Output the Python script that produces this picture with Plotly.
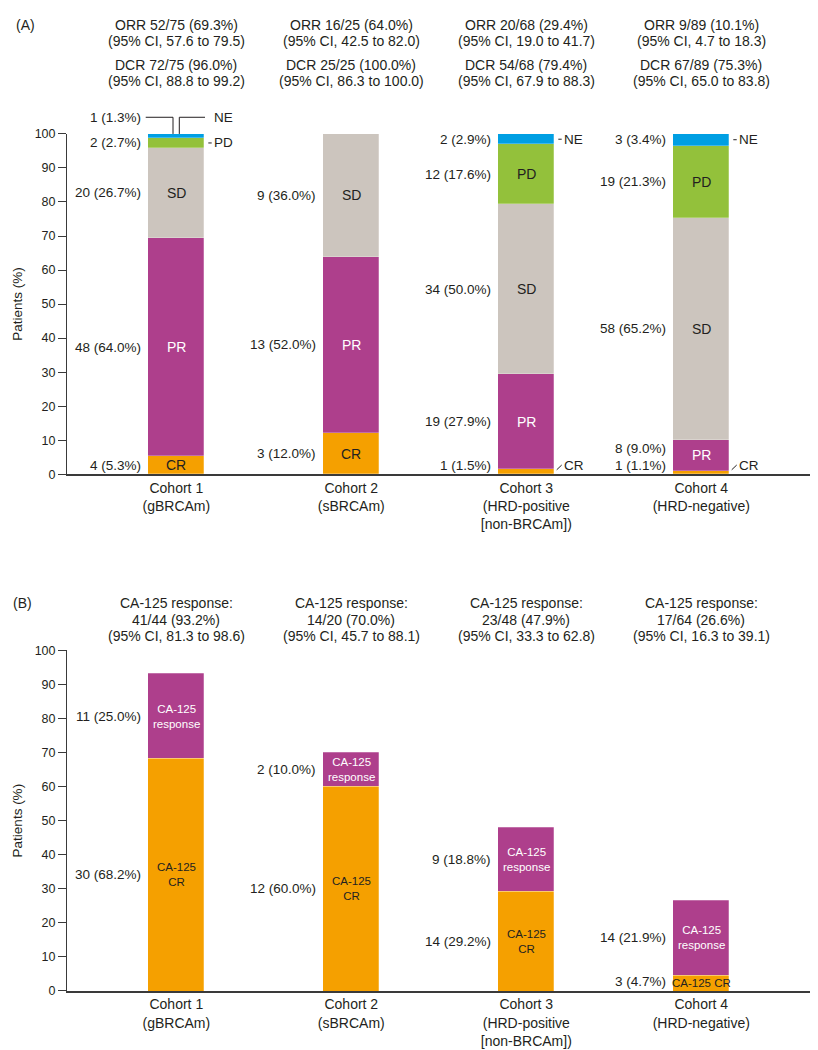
import plotly.graph_objects as go

# ---- data -------------------------------------------------------------
cohorts = ["Cohort 1<br>(gBRCAm)", "Cohort 2<br>(sBRCAm)",
           "Cohort 3<br>(HRD-positive<br>[non-BRCAm])", "Cohort 4<br>(HRD-negative)"]

# panel A: best overall response
cr_n = [4, 3, 1, 1]
cr_pct = [5.3, 12.0, 1.5, 1.1]
pr_n = [48, 13, 19, 8]
pr_pct = [64.0, 52.0, 27.9, 9.0]
sd_n = [20, 9, 34, 58]
sd_pct = [26.7, 36.0, 50.0, 65.2]
pd_n = [2, None, 12, 19]
pd_pct = [2.7, None, 17.6, 21.3]
ne_n = [1, None, 2, 3]
ne_pct = [1.3, None, 2.9, 3.4]

orr_text = ["ORR 52/75 (69.3%)", "ORR 16/25 (64.0%)", "ORR 20/68 (29.4%)", "ORR 9/89 (10.1%)"]
orr_ci = ["(95% CI, 57.6 to 79.5)", "(95% CI, 42.5 to 82.0)", "(95% CI, 19.0 to 41.7)", "(95% CI, 4.7 to 18.3)"]
dcr_text = ["DCR 72/75 (96.0%)", "DCR 25/25 (100.0%)", "DCR 54/68 (79.4%)", "DCR 67/89 (75.3%)"]
dcr_ci = ["(95% CI, 88.8 to 99.2)", "(95% CI, 86.3 to 100.0)", "(95% CI, 67.9 to 88.3)", "(95% CI, 65.0 to 83.8)"]

# panel B: CA-125 response
ca_cr_n = [30, 12, 14, 3]
ca_cr_pct = [68.2, 60.0, 29.2, 4.7]
ca_resp_n = [11, 2, 9, 14]
ca_resp_pct = [25.0, 10.0, 18.8, 21.9]

ca_ratio = ["41/44 (93.2%)", "14/20 (70.0%)", "23/48 (47.9%)", "17/64 (26.6%)"]
ca_ci = ["(95% CI, 81.3 to 98.6)", "(95% CI, 45.7 to 88.1)", "(95% CI, 33.3 to 62.8)", "(95% CI, 16.3 to 39.1)"]

# ---- styling / geometry ------------------------------------------------
OFF = 8                     # default page body margin
W, H = 810, 1050
ML = 67 - OFF
PW = W - ML
X0 = -0.6246
X1 = X0 + PW / 175.0        # 175 px between cohorts
BW = 0.32
FONT = "Liberation Sans, Arial, sans-serif"
INK = "#231f20"
C_CR, C_PR, C_SD, C_PD, C_NE = "#f5a000", "#ae3f8c", "#ccc5be", "#93c13b", "#009fe3"


def ypx(px):
    # target picture row -> paper fraction (empirical fit of the rendered page)
    return 1 - (px - 15) / 0.983 / H


def yfig(px):
    # figure pixel row -> paper fraction
    return 1 - px / H


dom_a = [ypx(472.5), ypx(133.5)]
dom_b = [ypx(987.3), ypx(648)]


def xp(x, dpx=0):
    return (x - X0) / (X1 - X0) + dpx / PW


def yp(y, dom):
    return dom[0] + y / 100 * (dom[1] - dom[0])


xs = list(range(len(cohorts)))
fig = go.Figure()
annos = []
shapes = []


def txt(x, y, s, size=13.5, color=INK, xa="center", ya="middle"):
    annos.append(dict(x=x, y=y, xref="paper", yref="paper", text=s, showarrow=False,
                      xanchor=xa, yanchor=ya, font=dict(size=size, color=color, family=FONT)))


def seg_line(x0, y0, x1, y1):
    shapes.append(dict(type="line", xref="paper", yref="paper", x0=x0, y0=y0, x1=x1, y1=y1,
                       line=dict(color=INK, width=1)))


# panel A bars
seg_a = [("CR", cr_n, cr_pct, C_CR, INK), ("PR", pr_n, pr_pct, C_PR, "white"),
         ("SD", sd_n, sd_pct, C_SD, INK), ("PD", pd_n, pd_pct, C_PD, INK),
         ("NE", ne_n, ne_pct, C_NE, INK)]
for name, n, pct, col, _ in seg_a:
    fig.add_trace(go.Bar(x=xs, y=pct, width=BW, name=name, marker_color=col,
                         marker_line=dict(color="rgba(255,255,255,0.5)", width=0.5),
                         xaxis="x", yaxis="y"))

for i in xs:
    base = 0
    left = []
    right_prev = None
    for name, n, pct, col, tcol in seg_a:
        if pct[i] is None:
            continue
        p = pct[i]
        mid = base + p / 2
        top = base + p
        lab = f"{n[i]} ({p:.1f}%)"
        if name == "NE" and right_prev is not None and mid - right_prev < 4.8:
            # bracket callout above the bar
            yl = top + 4.9
            txt(xp(i - BW / 2, -5.6), yp(yl, dom_a), lab, xa="right")
            seg_line(xp(i - BW / 2, -2.6), yp(yl, dom_a), xp(i, -3.3), yp(yl, dom_a))
            seg_line(xp(i, -3.3), yp(yl, dom_a), xp(i, -3.3), yp(top, dom_a))
            seg_line(xp(i, 3), yp(top, dom_a), xp(i, 3), yp(yl, dom_a))
            seg_line(xp(i, 3), yp(yl, dom_a), xp(i + BW / 2, 0.7), yp(yl, dom_a))
            txt(xp(i + BW / 2, 7.4), yp(yl, dom_a), name, xa="left")
            base = top
            continue
        ly = max(mid, 2.7)
        if left and ly - left[-1] < 4.8:
            ly = left[-1] + 4.8
        left.append(ly)
        txt(xp(i - BW / 2, -5.6), yp(ly, dom_a), lab, xa="right")
        if p >= 4 and name != "NE":
            txt(xp(i), yp(mid, dom_a), name, size=14, color=tcol)
        elif name == "CR":
            seg_line(xp(i + BW / 2, 2.4), yp(1.3, dom_a), xp(i + BW / 2, 7.4), yp(2.7, dom_a))
            txt(xp(i + BW / 2, 7.6), yp(2.7, dom_a), name, xa="left")
        else:
            seg_line(xp(i + BW / 2, 4), yp(mid, dom_a), xp(i + BW / 2, 7.4), yp(mid, dom_a))
            txt(xp(i + BW / 2, 7.6), yp(mid, dom_a), name, xa="left")
            right_prev = mid
        base = top

    cx = xp(i)
    txt(cx, yfig(10.5), orr_text[i], size=14)
    txt(cx, yfig(26.5), orr_ci[i], size=14)
    txt(cx, yfig(51.0), dcr_text[i], size=14)
    txt(cx, yfig(67.0), dcr_ci[i], size=14)

# panel B bars
seg_b = [("CR", ca_cr_n, ca_cr_pct, C_CR, INK), ("resp", ca_resp_n, ca_resp_pct, C_PR, "white")]
for name, n, pct, col, _ in seg_b:
    fig.add_trace(go.Bar(x=xs, y=pct, width=BW, name=name, marker_color=col,
                         marker_line=dict(color="rgba(255,255,255,0.5)", width=0.5),
                         xaxis="x2", yaxis="y2"))

for i in xs:
    base = 0
    left = []
    for name, n, pct, col, tcol in seg_b:
        p = pct[i]
        mid = base + p / 2
        ly = max(mid, 2.7)
        if left and ly - left[-1] < 4.8:
            ly = left[-1] + 4.8
        left.append(ly)
        txt(xp(i - BW / 2, -5.6), yp(ly, dom_b), f"{n[i]} ({p:.1f}%)", xa="right")
        if name == "CR":
            inner = "CA-125 CR" if p < 10 else "CA-125<br>CR"
        else:
            inner = "CA-125<br>response"
        txt(xp(i), yp(mid, dom_b), inner, size=11.5, color=tcol)
        base += p

    cx = xp(i)
    txt(cx, ypx(600.7), "CA-125 response:", size=14)
    txt(cx, ypx(617.3), ca_ratio[i], size=14)
    txt(cx, ypx(634), ca_ci[i], size=14)

txt(xp(X0, -53), yfig(10.5), "(A)", size=14, xa="left")
txt(xp(X0, -56), ypx(600.7), "(B)", size=14, xa="left")

xax = dict(range=[X0, X1], domain=[0, 1], showline=True, linecolor="#3a3a3a", linewidth=1.5,
           tickvals=xs, ticktext=cohorts, ticks="", showgrid=False, zeroline=False,
           tickfont=dict(size=14, color=INK, family=FONT), fixedrange=True)
yax = dict(range=[0, 100], dtick=10, showline=True, linecolor="#3a3a3a", linewidth=1,
           ticks="outside", ticklen=8, tickcolor="#3a3a3a", showgrid=False, zeroline=False,
           tickfont=dict(size=12.5, color=INK, family=FONT),
           title=dict(text="Patients (%)", font=dict(size=13.5, color=INK, family=FONT), standoff=8))

fig.update_layout(
    width=W, height=H,
    margin=dict(l=ML, r=0, t=0, b=0),
    barmode="stack", bargap=0,
    showlegend=False,
    plot_bgcolor="white", paper_bgcolor="white",
    font=dict(family=FONT, color=INK),
    xaxis=dict(xax, anchor="y"),
    yaxis=dict(yax, domain=dom_a, anchor="x"),
    xaxis2=dict(xax, anchor="y2"),
    yaxis2=dict(yax, domain=dom_b, anchor="x2"),
    annotations=annos,
    shapes=shapes,
)

fig.write_html("out.html")
